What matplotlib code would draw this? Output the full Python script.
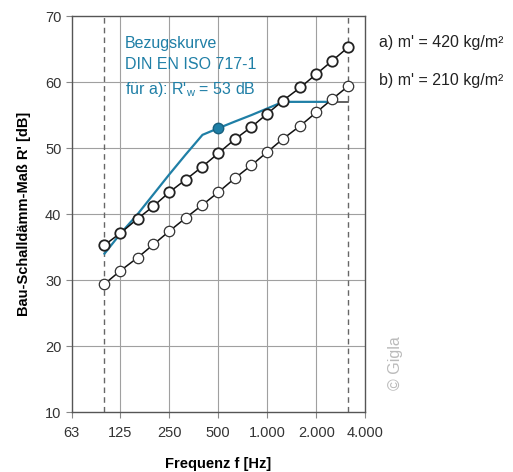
import numpy as np
import matplotlib
matplotlib.use('Agg')
import matplotlib.pyplot as plt

# third-octave band centre frequencies
freqs = [100, 125, 160, 200, 250, 315, 400, 500, 630, 800, 1000, 1250, 1600, 2000, 2500, 3150]
# a) m' = 420 kg/m2
r_a = [35.3, 37.1, 39.3, 41.2, 43.3, 45.2, 47.2, 49.2, 51.3, 53.2, 55.2, 57.2, 59.2, 61.2, 63.2, 65.3]
# b) m' = 210 kg/m2
r_b = [29.4, 31.4, 33.4, 35.4, 37.4, 39.4, 41.4, 43.3, 45.4, 47.4, 49.4, 51.4, 53.4, 55.4, 57.4, 59.4]
# shifted reference curve (ISO 717-1)
ref = [34, 37, 40, 43, 46, 49, 52, 53, 54, 55, 56, 57, 57, 57, 57, 57]

xticks = [63, 125, 250, 500, 1000, 2000, 4000]
xticklabels = ['63', '125', '250', '500', '1.000', '2.000', '4.000']
yticks = [10, 20, 30, 40, 50, 60, 70]

plt.rcParams['font.family'] = ['Liberation Sans', 'DejaVu Sans']
blue = '#1f7fa6'
tickcol = '#333333'

fig = plt.figure(figsize=(5.13, 4.72), dpi=100)
ax = fig.add_axes([0.140, 0.127, 0.572, 0.839])
ax.set_xscale('log')
ax.set_xlim(63, 4000)
ax.set_ylim(10, 70)

# grid
for x in xticks[1:-1]:
    ax.axvline(x, color='#a0a0a0', lw=0.8, zorder=0)
for y in yticks[1:-1]:
    ax.axhline(y, color='#a0a0a0', lw=0.8, zorder=0)
# dashed limits of the evaluated range
for x in [freqs[0], freqs[-1]]:
    ax.axvline(x, color='#666666', lw=1.0, ls=(0, (4, 3)), zorder=1)

# reference curve
ax.plot(freqs[:-1], ref[:-1], color=blue, lw=1.6, zorder=2)
ax.plot(freqs[-2:], ref[-2:], color='#444444', lw=1.2, zorder=2)
ax.plot(500, ref[freqs.index(500)], 'o', color=blue, ms=7.5, zorder=5,
        markeredgecolor='#17607e')

# measured curves
ax.plot(freqs, r_b, '-o', color='#111111', lw=1.1, ms=7.5,
        mfc='white', mec='#333333', mew=0.9, zorder=3)
ax.plot(freqs, r_a, '-o', color='#111111', lw=1.1, ms=7.5,
        mfc='white', mec='#222222', mew=1.3, zorder=4)

ax.set_xticks(xticks)
ax.set_xticklabels(xticklabels)
ax.minorticks_off()
ax.set_yticks(yticks)
ax.tick_params(axis='both', colors='#888888', labelcolor=tickcol,
               labelsize=10.5, length=4, width=0.8)
ax.tick_params(axis='x', pad=6)
for s in ax.spines.values():
    s.set_color('#555555')
    s.set_linewidth(1.0)

ax.set_xlabel('Frequenz f [Hz]', fontweight='bold', fontsize=10.5, labelpad=12)
ax.set_ylabel("Bau-Schalldämm-Maß R' [dB]", fontweight='bold', fontsize=10.5, labelpad=10)

ax.text(0.18, 0.95, "Bezugskurve\nDIN EN ISO 717-1\nfür a): R'$_\\mathregular{w}$ = 53 dB",
        transform=ax.transAxes, color=blue, fontsize=11.5, va='top',
        linespacing=1.55)

fig.text(0.738, 0.910, "a) m' = 420 kg/m²", fontsize=11.5, color='#222222', va='center')
fig.text(0.738, 0.830, "b) m' = 210 kg/m²", fontsize=11.5, color='#222222', va='center')
fig.text(0.77, 0.23, '© Gigla', fontsize=11.5, color='#bbbbbb', rotation=90,
         ha='center', va='center')

fig.savefig('out.png', dpi=100)
